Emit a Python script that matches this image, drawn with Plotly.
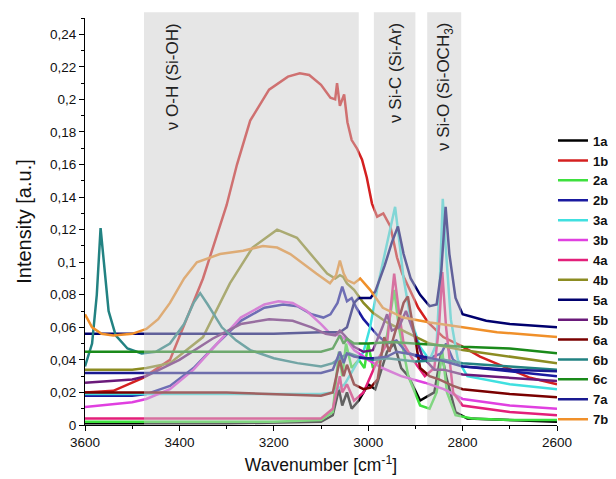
import plotly.graph_objects as go

# ---------------- data ----------------
names = ["1a", "1b", "2a", "2b", "3a", "3b", "4a", "4b", "5a", "5b", "6a", "6b", "6c", "7a", "7b"]
colors = ["#000000", "#d42020", "#3ee03e", "#1a1aa0", "#40e0e0", "#e040e0", "#e3207a", "#8c8c22",
          "#00006e", "#6a1a7a", "#7a0000", "#228282", "#1a8a1a", "#1a1a90", "#f0902a"]

wn_1a = [3600, 3300, 3100, 3075, 3062, 3055, 3045, 3035, 3020, 3000, 2985, 2960, 2945, 2930, 2915, 2890, 2860, 2845, 2835, 2815, 2790, 2700, 2600]
y_1a = [0.001, 0.001, 0.002, 0.006, 0.022, 0.012, 0.020, 0.010, 0.015, 0.025, 0.022, 0.045, 0.050, 0.035, 0.030, 0.015, 0.020, 0.045, 0.030, 0.008, 0.004, 0.003, 0.002]

wn_1b = [3600, 3540, 3477, 3420, 3350, 3300, 3278, 3250, 3210, 3170, 3145, 3125, 3100, 3080, 3070, 3066, 3060, 3051, 3044, 3035, 3024, 3013, 3003, 2992, 2981, 2968, 2953, 2939, 2928, 2911, 2894, 2873, 2841, 2799, 2763, 2714, 2657, 2600]
y_1b = [0.020, 0.021, 0.029, 0.040, 0.090, 0.135, 0.160, 0.187, 0.206, 0.214, 0.216, 0.215, 0.209, 0.201, 0.200, 0.210, 0.196, 0.203, 0.186, 0.175, 0.170, 0.163, 0.152, 0.136, 0.128, 0.130, 0.122, 0.103, 0.093, 0.083, 0.072, 0.063, 0.054, 0.048, 0.042, 0.036, 0.029, 0.025]

wn_2a = [3600, 3200, 3100, 3075, 3062, 3055, 3047, 3035, 3020, 3008, 3000, 2990, 2975, 2960, 2945, 2935, 2915, 2890, 2870, 2855, 2843, 2833, 2815, 2780, 2700, 2600]
y_2a = [0.002, 0.002, 0.003, 0.008, 0.045, 0.030, 0.050, 0.035, 0.040, 0.035, 0.050, 0.035, 0.040, 0.055, 0.083, 0.060, 0.030, 0.012, 0.010, 0.020, 0.045, 0.020, 0.006, 0.004, 0.003, 0.003]

wn_2b = [3600, 3500, 3470, 3420, 3370, 3320, 3270, 3220, 3180, 3150, 3120, 3095, 3080, 3065, 3055, 3045, 3035, 3025, 3010, 2995, 2980, 2960, 2940, 2920, 2880, 2845, 2835, 2820, 2800, 2700, 2600]
y_2b = [0.018, 0.018, 0.019, 0.024, 0.035, 0.050, 0.064, 0.072, 0.074, 0.073, 0.068, 0.066, 0.068, 0.075, 0.085, 0.076, 0.078, 0.072, 0.065, 0.060, 0.055, 0.050, 0.052, 0.045, 0.040, 0.044, 0.050, 0.040, 0.036, 0.033, 0.030]

wn_3a = [3600, 3300, 3100, 3075, 3050, 3030, 3010, 2996, 2980, 2965, 2950, 2943, 2935, 2925, 2910, 2890, 2870, 2855, 2848, 2842, 2836, 2825, 2810, 2790, 2700, 2600]
y_3a = [0.019, 0.019, 0.019, 0.020, 0.025, 0.035, 0.045, 0.060, 0.085, 0.105, 0.125, 0.134, 0.115, 0.090, 0.065, 0.048, 0.040, 0.050, 0.090, 0.139, 0.110, 0.065, 0.040, 0.030, 0.025, 0.022]

wn_3b = [3600, 3500, 3470, 3420, 3370, 3320, 3270, 3220, 3190, 3160, 3130, 3100, 3080, 3060, 3045, 3030, 3000, 2970, 2930, 2880, 2840, 2800, 2700, 2600]
y_3b = [0.011, 0.014, 0.016, 0.022, 0.034, 0.050, 0.066, 0.074, 0.076, 0.075, 0.070, 0.062, 0.056, 0.055, 0.052, 0.046, 0.040, 0.035, 0.030, 0.026, 0.022, 0.016, 0.012, 0.010]

wn_4a = [3600, 3300, 3100, 3075, 3060, 3055, 3045, 3030, 3010, 2995, 2980, 2960, 2945, 2935, 2925, 2905, 2880, 2860, 2850, 2843, 2835, 2820, 2800, 2700, 2600]
y_4a = [0.004, 0.004, 0.004, 0.010, 0.030, 0.020, 0.025, 0.015, 0.020, 0.030, 0.040, 0.050, 0.093, 0.070, 0.050, 0.040, 0.030, 0.035, 0.060, 0.094, 0.060, 0.020, 0.012, 0.008, 0.006]

wn_4b = [3600, 3500, 3470, 3420, 3350, 3293, 3245, 3193, 3151, 3087, 3070, 3060, 3053, 3045, 3030, 3010, 2990, 2960, 2920, 2870, 2800, 2700, 2600]
y_4b = [0.034, 0.034, 0.035, 0.038, 0.054, 0.087, 0.109, 0.120, 0.115, 0.093, 0.090, 0.092, 0.091, 0.087, 0.083, 0.075, 0.069, 0.063, 0.057, 0.050, 0.046, 0.042, 0.038]

wn_5a = [3600, 3400, 3200, 3100, 3060, 3045, 3030, 3020, 2995, 2985, 2965, 2950, 2937, 2925, 2910, 2890, 2870, 2855, 2845, 2836, 2828, 2815, 2800, 2750, 2700, 2600]
y_5a = [0.056, 0.056, 0.056, 0.057, 0.057, 0.060, 0.075, 0.078, 0.078, 0.082, 0.098, 0.112, 0.122, 0.105, 0.090, 0.080, 0.073, 0.074, 0.095, 0.134, 0.105, 0.078, 0.068, 0.064, 0.062, 0.060]

wn_5b = [3600, 3500, 3470, 3400, 3330, 3270, 3210, 3160, 3120, 3090, 3070, 3060, 3050, 3030, 3010, 2990, 2970, 2960, 2950, 2935, 2920, 2905, 2885, 2860, 2840, 2800, 2700, 2600]
y_5b = [0.026, 0.028, 0.030, 0.040, 0.053, 0.062, 0.065, 0.064, 0.060, 0.056, 0.055, 0.058, 0.055, 0.048, 0.045, 0.046, 0.060, 0.068, 0.058, 0.060, 0.070, 0.058, 0.042, 0.034, 0.034, 0.031, 0.029, 0.027]

wn_6a = [3600, 3300, 3100, 3075, 3060, 3052, 3045, 3030, 3010, 2995, 2980, 2966, 2955, 2940, 2925, 2916, 2905, 2890, 2870, 2850, 2820, 2800, 2700, 2600]
y_6a = [0.020, 0.020, 0.018, 0.020, 0.040, 0.030, 0.037, 0.025, 0.022, 0.023, 0.028, 0.054, 0.045, 0.060, 0.075, 0.079, 0.060, 0.035, 0.030, 0.028, 0.024, 0.022, 0.019, 0.017]

wn_6b = [3600, 3585, 3575, 3567, 3560, 3550, 3535, 3510, 3480, 3450, 3420, 3390, 3370, 3356, 3340, 3310, 3280, 3250, 3200, 3150, 3100, 3075, 3055, 3040, 3020, 2990, 2960, 2900, 2840, 2800, 2700, 2600]
y_6b = [0.036, 0.050, 0.080, 0.121, 0.100, 0.070, 0.055, 0.047, 0.044, 0.045, 0.050, 0.062, 0.075, 0.081, 0.074, 0.060, 0.052, 0.046, 0.041, 0.038, 0.036, 0.038, 0.042, 0.044, 0.042, 0.040, 0.041, 0.039, 0.040, 0.038, 0.036, 0.034]

wn_6c = [3600, 3300, 3100, 3075, 3060, 3052, 3045, 3030, 3000, 2950, 2900, 2850, 2800, 2700, 2600]
y_6c = [0.045, 0.045, 0.045, 0.047, 0.055, 0.050, 0.053, 0.050, 0.050, 0.051, 0.050, 0.049, 0.048, 0.047, 0.044]

wn_7a = [3600, 3300, 3100, 3075, 3060, 3052, 3045, 3030, 3010, 2990, 2960, 2940, 2900, 2850, 2800, 2700, 2600]
y_7a = [0.032, 0.032, 0.032, 0.034, 0.045, 0.038, 0.044, 0.042, 0.041, 0.041, 0.042, 0.045, 0.043, 0.040, 0.036, 0.034, 0.033]

wn_7b = [3600, 3585, 3565, 3540, 3500, 3470, 3445, 3420, 3390, 3363, 3314, 3265, 3223, 3193, 3165, 3138, 3110, 3081, 3068, 3060, 3052, 3045, 3030, 3017, 2996, 2969, 2926, 2869, 2799, 2727, 2600]
y_7b = [0.068, 0.060, 0.056, 0.055, 0.056, 0.059, 0.065, 0.075, 0.090, 0.100, 0.105, 0.107, 0.110, 0.109, 0.105, 0.099, 0.093, 0.087, 0.092, 0.101, 0.093, 0.089, 0.087, 0.090, 0.083, 0.072, 0.066, 0.063, 0.060, 0.057, 0.054]

series_x = [wn_1a, wn_1b, wn_2a, wn_2b, wn_3a, wn_3b, wn_4a, wn_4b, wn_5a, wn_5b, wn_6a, wn_6b, wn_6c, wn_7a, wn_7b]
series_y = [y_1a, y_1b, y_2a, y_2b, y_3a, y_3b, y_4a, y_4b, y_5a, y_5b, y_6a, y_6b, y_6c, y_7a, y_7b]

y_tick_vals = [0, 0.02, 0.04, 0.06, 0.08, 0.10, 0.12, 0.14, 0.16, 0.18, 0.20, 0.22, 0.24]
y_tick_text = ["0", "0,02", "0,04", "0,06", "0,08", "0,1", "0,12", "0,14", "0,16", "0,18", "0,2", "0,22", "0,24"]
y_minor_vals = [0.01, 0.03, 0.05, 0.07, 0.09, 0.11, 0.13, 0.15, 0.17, 0.19, 0.21, 0.23, 0.25]
x_tick_vals = [3600, 3400, 3200, 3000, 2800, 2600]

bands = [(3475, 3020), (2988, 2900), (2875, 2803)]
band_labels = ["ν O-H (Si-OH)", "ν Si-C (Si-Ar)", "ν Si-O (Si-OCH<sub>3</sub>)"]
band_label_x = [3414, 2941, 2837]

# ---------------- figure ----------------
fig = go.Figure()
for nm, col, xs, ys in zip(names, colors, series_x, series_y):
    fig.add_trace(go.Scatter(x=xs, y=ys, mode="lines", name=nm,
                             line=dict(color=col, width=2.5)))

for (a, b) in bands:
    fig.add_shape(type="rect", xref="x", yref="paper", x0=a, x1=b, y0=0, y1=1.014,
                  fillcolor="rgba(202,202,202,0.48)", line=dict(width=0), layer="above")

for txt, bx in zip(band_labels, band_label_x):
    fig.add_annotation(x=bx, y=0.993, xref="x", yref="paper", text=txt, showarrow=False,
                       textangle=-90, xanchor="center", yanchor="top",
                       font=dict(family="Liberation Sans, Arial", size=17, color="#222"))

# page body adds an 8px offset, so the figure is drawn 8px smaller
fig.update_layout(
    width=608, height=471,
    margin=dict(l=77, r=59, t=10, b=54, autoexpand=False),
    paper_bgcolor="white", plot_bgcolor="white",
    font=dict(family="Liberation Sans, Arial", size=13.5, color="#111"),
    showlegend=True,
    legend=dict(x=0.9915, xanchor="left", y=0.7356, yanchor="top",
                font=dict(family="Liberation Sans, Arial", size=13, color="#111", weight="bold"),
                bgcolor="rgba(0,0,0,0)", borderwidth=0, itemwidth=30, tracegroupgap=0),
)
fig.update_xaxes(range=[3600, 2600], tickvals=x_tick_vals, ticks="outside", ticklen=5,
                 showline=True, linecolor="black", linewidth=1.2, showgrid=False, zeroline=False,
                 minor=dict(dtick=100, ticks="outside", ticklen=3, tickcolor="black"),
                 tickcolor="black", automargin=False,
                 title=dict(text="Wavenumber [cm<sup>-1</sup>]", font=dict(size=17.5), standoff=9))
fig.update_yaxes(range=[0, 0.25], tickvals=y_tick_vals, ticktext=y_tick_text, ticks="outside", ticklen=5,
                 showline=True, linecolor="black", linewidth=1.2, showgrid=False, zeroline=False,
                 minor=dict(tickvals=y_minor_vals, ticks="outside", ticklen=3, tickcolor="black"),
                 tickcolor="black", automargin=False,
                 title=dict(text="Intensity [a.u.]", font=dict(size=20), standoff=12))

fig.write_html("out.html")
